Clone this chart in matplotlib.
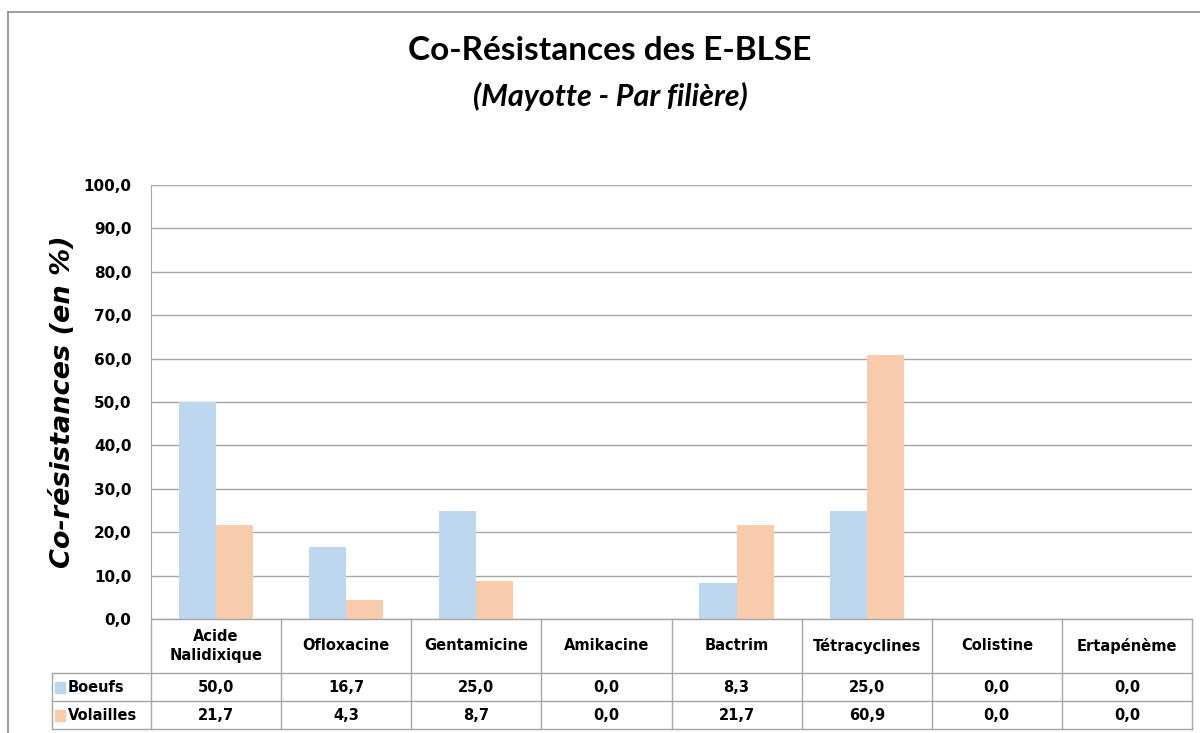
import matplotlib.pyplot as plt
from matplotlib.lines import Line2D
from matplotlib.patches import Rectangle
import numpy as np

categories = ['Acide\nNalidixique', 'Ofloxacine', 'Gentamicine', 'Amikacine',
              'Bactrim', 'Tétracyclines', 'Colistine', 'Ertapénème']
boeufs = [50.0, 16.7, 25.0, 0.0, 8.3, 25.0, 0.0, 0.0]
volailles = [21.7, 4.3, 8.7, 0.0, 21.7, 60.9, 0.0, 0.0]
series_names = ['Boeufs', 'Volailles']
colors = ['#BDD7EE', '#F8CBAD']

W, H = 1200, 733


def fx(x):
    return x / W


def fy(y):
    return 1 - y / H


fig = plt.figure(figsize=(12, 7.33), dpi=100)

# zone du graphique (en pixels)
left, right, top, bottom = 151, 1192, 185, 619
ax = fig.add_axes([fx(left), fy(bottom), fx(right - left), (bottom - top) / H])

n = len(categories)
x = np.arange(n)
bw = 0.285
ax.bar(x - bw / 2, boeufs, bw, color=colors[0], zorder=2)
ax.bar(x + bw / 2, volailles, bw, color=colors[1], zorder=2)

ax.set_xlim(-0.5, n - 0.5)
ax.set_ylim(0, 100)
ax.set_yticks(np.arange(0, 101, 10))
ax.set_yticklabels([f'{v:.1f}'.replace('.', ',') for v in np.arange(0, 101, 10)],
                   fontsize=11, fontweight='bold')
ax.yaxis.grid(True, color='#A6A6A6', linewidth=1, zorder=0)
ax.set_xticks([])
ax.tick_params(axis='y', length=0, pad=14)
for s in ['top', 'right', 'bottom']:
    ax.spines[s].set_visible(False)
ax.spines['left'].set_color('#A6A6A6')

# titre de l'axe y
fig.text(fx(63), fy(402), 'Co-résistances (en %)', rotation=90, ha='center',
         va='center', fontsize=19.5, fontweight='bold', fontstyle='italic')

# titres
fig.text(fx(610), fy(50), 'Co-Résistances des E-BLSE', ha='center', va='center',
         fontsize=24, fontweight='bold', family='Lato')
fig.text(fx(610), fy(96), '(Mayotte - Par filière)', ha='center', va='center',
         fontsize=22, fontweight='bold', fontstyle='italic', family='Lato')

# cadre extérieur
gc = '#8C8C8C'
fig.add_artist(Line2D([fx(8), fx(1200)], [fy(12), fy(12)], color=gc, lw=1.2))
fig.add_artist(Line2D([fx(8), fx(8)], [fy(12), fy(733)], color=gc, lw=1.2))

# tableau de données
tc = '#A6A6A6'
colw = (right - left) / n
row_y = [619, 673, 701, 729]
fig.add_artist(Line2D([fx(left), fx(right)], [fy(619), fy(619)], color=tc, lw=1))
for yy in row_y[1:]:
    fig.add_artist(Line2D([fx(52), fx(right)], [fy(yy), fy(yy)], color=tc, lw=1))
for i in range(n + 1):
    xx = left + i * colw
    fig.add_artist(Line2D([fx(xx), fx(xx)], [fy(619), fy(729)], color=tc, lw=1))
fig.add_artist(Line2D([fx(52), fx(52)], [fy(673), fy(729)], color=tc, lw=1))

for i, cat in enumerate(categories):
    cx = left + (i + 0.5) * colw
    fig.text(fx(cx), fy(646), cat, ha='center', va='center', fontsize=10.5,
             fontweight='bold', linespacing=1.3)
    for vals, yy in [(boeufs, 687), (volailles, 715)]:
        fig.text(fx(cx), fy(yy), f'{vals[i]:.1f}'.replace('.', ','), ha='center',
                 va='center', fontsize=10.5, fontweight='bold')

for name, col, yy in zip(series_names, colors, [687, 715]):
    fig.add_artist(Rectangle((fx(55), fy(yy + 6)), fx(10), 11 / H, color=col,
                             transform=fig.transFigure))
    fig.text(fx(68), fy(yy), name, ha='left', va='center', fontsize=10.5,
             fontweight='bold')

fig.savefig('out.png', dpi=100)
